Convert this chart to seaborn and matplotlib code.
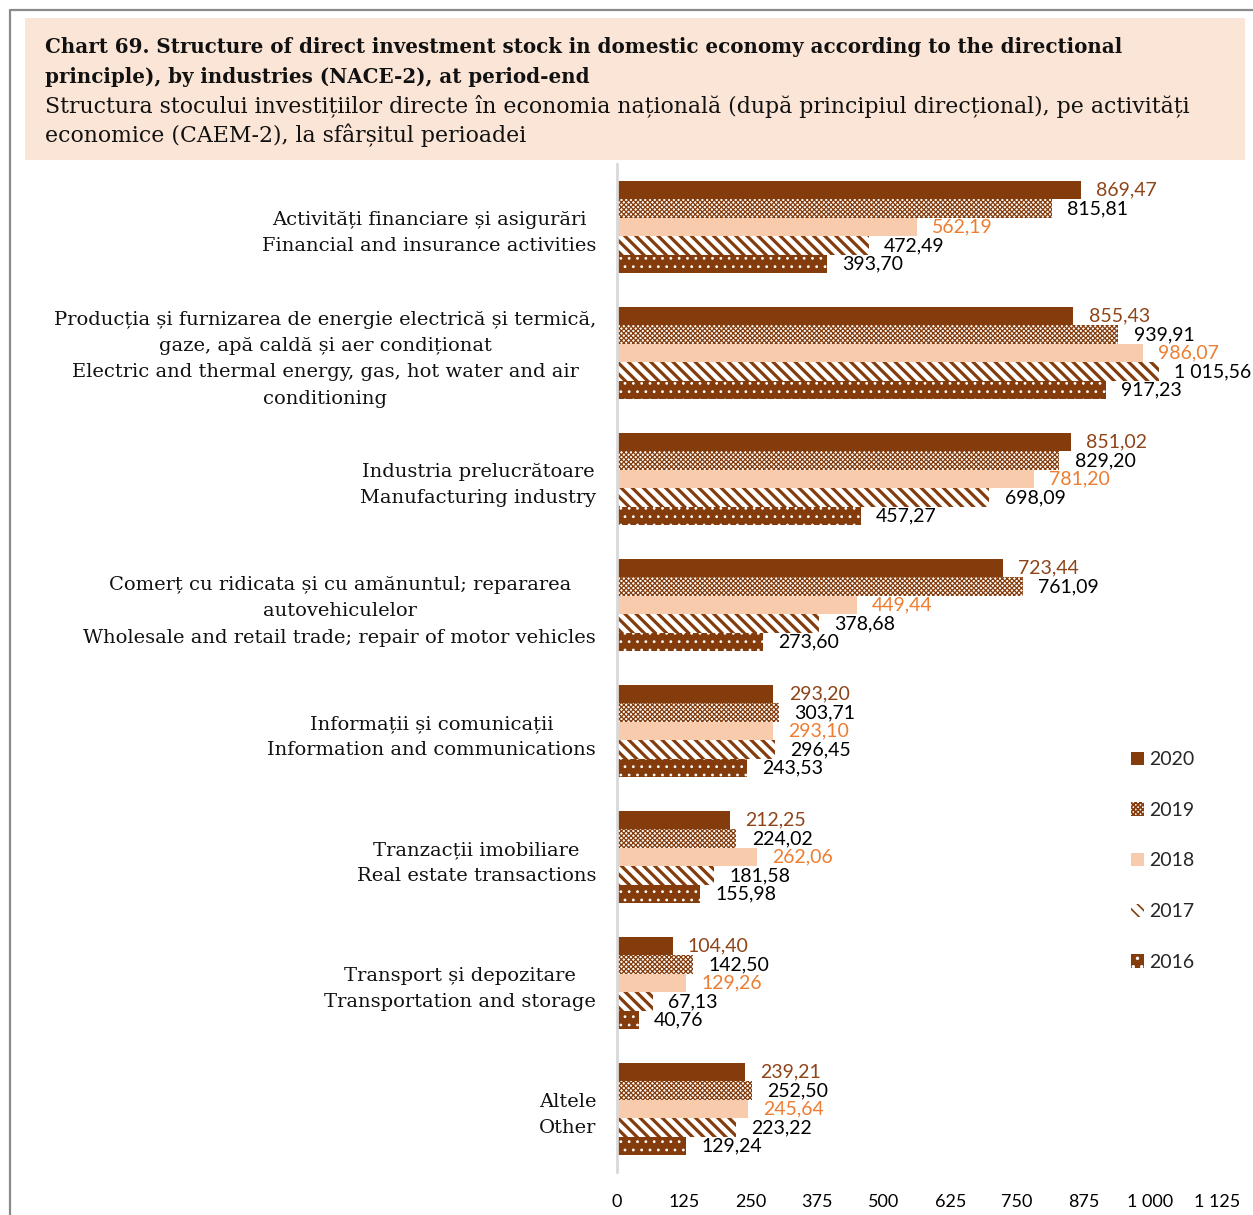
import numpy as np
import pandas as pd
import matplotlib
matplotlib.use("Agg")
import matplotlib.pyplot as plt
from matplotlib.patches import Rectangle, Patch
from matplotlib.lines import Line2D
import seaborn as sns

# ---- data -------------------------------------------------------------
categories = [
    "Activități financiare și asigurări\nFinancial and insurance activities",
    "Producția și furnizarea de energie electrică și termică,\n"
    "gaze, apă caldă și aer condiționat\n"
    "Electric and thermal energy, gas, hot water and air\nconditioning",
    "Industria prelucrătoare\nManufacturing industry",
    "Comerț cu ridicata și cu amănuntul; repararea\nautovehiculelor\n"
    "Wholesale and retail trade; repair of motor vehicles",
    "Informații și comunicații\nInformation and communications",
    "Tranzacții imobiliare\nReal estate transactions",
    "Transport și depozitare\nTransportation and storage",
    "Altele\nOther",
]
years = ["2020", "2019", "2018", "2017", "2016"]
v2020 = [869.47, 855.43, 851.02, 723.44, 293.20, 212.25, 104.40, 239.21]
v2019 = [815.81, 939.91, 829.20, 761.09, 303.71, 224.02, 142.50, 252.50]
v2018 = [562.19, 986.07, 781.20, 449.44, 293.10, 262.06, 129.26, 245.64]
v2017 = [472.49, 1015.56, 698.09, 378.68, 296.45, 181.58, 67.13, 223.22]
v2016 = [393.70, 917.23, 457.27, 273.60, 243.53, 155.98, 40.76, 129.24]
x_ticks = [0, 125, 250, 375, 500, 625, 750, 875, 1000, 1125]

title_lines = [
    "Chart 69. Structure of direct investment stock in domestic economy according to the directional",
    "principle), by industries (NACE-2), at period-end",
    "Structura stocului investițiilor directe în economia națională (după principiul direcțional), pe activități",
    "economice (CAEM-2), la sfârșitul perioadei",
]

series = {"2020": v2020, "2019": v2019, "2018": v2018, "2017": v2017, "2016": v2016}
df = pd.DataFrame(
    [(c, y, v) for y in years for c, v in zip(categories, series[y])],
    columns=["category", "year", "value"],
)

BROWN = "#843C0C"
PEACH = "#F8CBAD"
styles = {
    "2020": dict(face=BROWN, edge=BROWN, hatch=None, hlw=1.0),
    "2019": dict(face="white", edge=BROWN, hatch="xxxxxxx", hlw=0.9),
    "2018": dict(face=PEACH, edge=PEACH, hatch=None, hlw=1.0),
    "2017": dict(face="white", edge=BROWN, hatch="\\\\\\", hlw=2.3),
    "2016": dict(face=BROWN, edge="white", hatch="..", hlw=0.8),
}
label_colors = {"2020": "#8E4418", "2019": "black", "2018": "#ED7D31",
                "2017": "black", "2016": "black"}


def fmt(v):
    return f"{v:,.2f}".replace(",", " ").replace(".", ",")


def style_patch(p, st):
    p.set_facecolor(st["face"])
    p.set_edgecolor(st["edge"])
    p.set_linewidth(0)
    if st["hatch"]:
        p.set_hatch(st["hatch"])
        if hasattr(p, "set_hatch_linewidth"):
            p.set_hatch_linewidth(st["hlw"])


# ---- figure -----------------------------------------------------------
W, H = 1253, 1215
sns.set_theme(style="white")
plt.rcParams["hatch.linewidth"] = 1.2
SANS = ["Lato", "DejaVu Sans"]
SERIF = ["DejaVu Serif"]

fig = plt.figure(figsize=(W / 100, H / 100), dpi=100)
fig.patch.set_facecolor("white")

# outer frame (left and top)
fig.add_artist(Line2D([9.5 / W, 9.5 / W], [0, 1 - 9.5 / H], transform=fig.transFigure,
                      color="#8a8a8a", lw=1.6))
fig.add_artist(Line2D([9.5 / W, 1], [1 - 9.5 / H, 1 - 9.5 / H], transform=fig.transFigure,
                      color="#8a8a8a", lw=1.6))

# title band
fig.add_artist(Rectangle((25 / W, 1 - 160 / H), (1245 - 25) / W, (160 - 18) / H,
                         transform=fig.transFigure, facecolor="#FBE5D6",
                         edgecolor="none", zorder=0))
baselines = [53, 83, 113, 142]
for i, (line, yb) in enumerate(zip(title_lines, baselines)):
    bold = i < 2
    fig.text(45 / W, 1 - yb / H, line, ha="left", va="baseline",
             family=SERIF, fontsize=14.35 if bold else 15.8, color="#111111",
             fontweight="bold" if bold else "normal")

ax = fig.add_axes([617 / W, 1 - 1172 / H, (1217 - 617) / W, (1172 - 164) / H])
sns.barplot(data=df, y="category", x="value", hue="year", hue_order=years,
            order=categories, orient="h", width=0.73, saturation=1,
            palette={y: styles[y]["face"] for y in years}, legend=False, ax=ax)

for year, cont in zip(years, ax.containers):
    for p in cont:
        style_patch(p, styles[year])
    ax.bar_label(cont, labels=[fmt(v) for v in series[year]], padding=11,
                 color=label_colors[year], family=SANS, fontsize=14)

ax.set_xlim(0, 1125)
ax.set_xticks(x_ticks)
ax.set_xticklabels([fmt(t).split(",")[0] for t in x_ticks], family=SANS, fontsize=13)
ax.set_xlabel("")
ax.set_ylabel("")
ax.tick_params(axis="x", length=0, pad=16, colors="black")
ax.tick_params(axis="y", length=0, pad=15)
for lbl in ax.get_yticklabels():
    lbl.set_family(SERIF)
    lbl.set_fontsize(14)
    lbl.set_multialignment("center")
    lbl.set_linespacing(1.6)
    lbl.set_color("#111111")
for s in ["top", "right", "bottom"]:
    ax.spines[s].set_visible(False)
ax.spines["left"].set_color("#d9d9d9")
ax.spines["left"].set_linewidth(2)
ax.grid(False)

# legend
handles = []
for y in years:
    h = Patch(label=y)
    style_patch(h, styles[y])
    handles.append(h)
fig.legend(handles=handles, labels=years, loc="center left",
           bbox_to_anchor=(1131 / W, 1 - 861 / H), frameon=False,
           borderpad=0, borderaxespad=0, handlelength=0.67, handleheight=0.67,
           handletextpad=0.25, labelspacing=1.73, prop={"family": SANS, "size": 14})

fig.savefig("out.png", dpi=100, facecolor="white")
